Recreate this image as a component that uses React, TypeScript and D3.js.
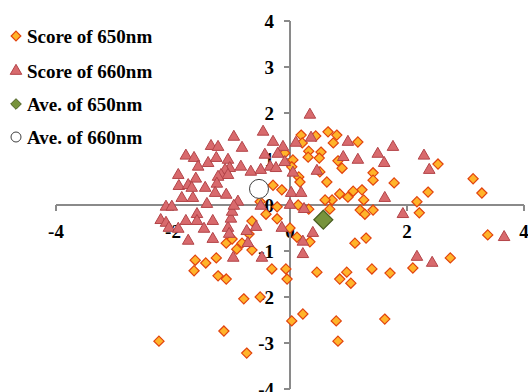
// App.tsx
import React, { useRef, useEffect } from 'react';
import { select, scaleLinear, symbol, symbolDiamond2, symbolTriangle } from 'd3';

// scores of 650nm [x, y]
const score650: [number, number][] = [
    [0.19, 1.52], [0.21, 1.35], [0.44, 1.5], [0.65, 1.59], [0.8, 1.52], [0.74, 1.35],
    [1.16, 1.37], [0.32, 1.17], [0.31, 1.04], [0.53, 1.15], [0.5, 1.02], [0.82, 0.96],
    [0.89, 0.8], [0.05, 0.98], [0.03, 0.83], [0.15, 0.61], [0.17, 0.5], [0.51, 0.72],
    [0.63, 0.5], [1.42, 0.7], [1.42, 0.54], [1.78, 0.48], [2.53, 0.89], [3.13, 0.57],
    [3.28, 0.26], [2.36, 0.28], [2.17, 0.07], [2.21, -0.17], [1.23, 0.33], [1.08, 0.3],
    [0.85, 0.24], [0.99, 0.17], [1.26, 0.11], [0.72, 0.11], [0.6, 0.11], [-0.09, 1.13],
    [0.14, 0], [0.32, -0.09], [0.68, -0.09], [1.2, -0.11], [1.28, -0.2], [1.42, -0.11],
    [0, -0.5], [0.12, -0.7], [0.34, -0.8], [1.11, -0.83], [1.3, -0.72], [0.46, -1.46],
    [0.97, -1.46], [0.85, -1.61], [1.04, -1.7], [1.4, -1.39], [1.71, -1.48], [2.1, -1.37],
    [2.74, -1.15], [3.38, -0.65], [0.03, -2.52], [0.22, -2.37], [0.79, -2.52], [0.82, -2.96],
    [1.62, -2.48], [-0.29, 0.43], [-0.14, 0.33], [-0.51, 0.07], [-0.22, -0.04], [-0.41, -0.2],
    [-0.22, -0.3], [-0.65, -0.35], [-0.7, -0.63], [-1.09, -0.83], [-0.99, -0.74], [-0.91, -0.96],
    [-0.82, -0.83], [-0.65, -0.98], [-1.62, -1.2], [-1.44, -1.26], [-1.26, -1.15], [-1.64, -1.43],
    [-1.23, -1.54], [-1.09, -1.61], [-0.31, -1.39], [-0.07, -1.39], [-0.05, -1.61], [-0.79, -2.04],
    [-0.51, -2.0], [-2.24, -2.96], [-1.13, -2.74], [-0.74, -3.22]
];

// scores of 660nm [x, y]
const score660: [number, number][] = [
    [0.34, 1.96], [-0.46, 1.59], [-0.29, 1.37], [-0.12, 1.26], [0.1, 1.35], [0.36, 1.46],
    [0.99, 1.37], [1.76, 1.26], [1.5, 1.11], [2.29, 1.07], [1.61, 0.91], [2.38, 0.76],
    [0.91, 1.04], [1.16, 0.98], [0.46, 0.74], [-0.43, 1.09], [-0.21, 1.11], [-0.09, 0.93],
    [0.05, 0.7], [-0.5, 0.76], [-0.34, 0.83], [-0.24, 0.8], [0.02, 0.26], [0.19, 0.26],
    [1.62, 0.15], [-0.96, 1.48], [-1.35, 1.28], [-1.23, 1.26], [-0.82, 1.24], [-1.78, 1.07],
    [-1.64, 1.02], [-1.57, 0.83], [-1.4, 0.91], [-1.26, 1.02], [-1.06, 0.98], [-1.03, 0.8],
    [-1.11, 0.76], [-1.18, 0.65], [-1.06, 0.65], [-0.84, 0.83], [-0.67, 0.72], [-1.91, 0.65],
    [-1.9, 0.41], [-1.74, 0.43], [-1.61, 0.57], [-1.68, 0.37], [-1.45, 0.37], [-1.23, 0.61],
    [-1.25, 0.46], [-1.28, 0.26], [-1.09, 0.22], [-1.66, 0.15], [-1.85, 0.15], [-1.42, 0.02],
    [-0.89, 0.07], [0, 0], [-2.12, -0.04], [-2.02, -0.04], [-2.21, -0.33], [-2.12, -0.39],
    [-2.07, -0.5], [-1.91, -0.52], [-1.78, -0.35], [-1.59, -0.2], [-1.59, -0.35], [-1.47, -0.52],
    [-1.32, -0.35], [-1.32, -0.74], [-1.74, -0.78], [-1.06, -0.5], [-1.04, -0.63], [-1.01, -0.3],
    [-0.99, -0.15], [-0.96, -0.02], [-0.74, -0.57], [-0.58, -0.48], [-0.14, -0.5], [-0.72, -0.83],
    [-0.97, -1.15], [-0.48, -1.15], [-0.5, -0.02], [0.24, -0.09], [1.93, -0.2], [0.39, -0.61],
    [0.22, -0.8], [0.22, -1.07], [2.17, -1.13], [2.43, -1.26], [3.66, -0.7]
];

const ave650: [number, number] = [0.57, -0.32];
const ave660: [number, number] = [-0.53, 0.35];

const xTicks = [-4, -2, 0, 2, 4];
const yTicks = [-4, -3, -2, -1, 0, 1, 2, 3, 4];

const legendLabels = ['Score of 650nm', 'Score of 660nm', 'Ave. of 650nm', 'Ave. of 660nm'];

const W = 528;
const H = 392;
const FONT = "'Liberation Serif', 'Times New Roman', Times, serif";

const App = () => {
    const ref = useRef<SVGSVGElement>(null);

    useEffect(() => {
        const svg = select(ref.current);
        svg.selectAll('*').remove();

        const x = scaleLinear().domain([-4, 4]).range([56, 524]);
        const y = scaleLinear().domain([-4, 4]).range([389, 21]);

        const axisColor = '#8a8a8a';

        // x axis through y = 0
        svg.append('line')
            .attr('x1', x(-4)).attr('x2', x(4))
            .attr('y1', y(0)).attr('y2', y(0))
            .attr('stroke', axisColor).attr('stroke-width', 2);
        svg.selectAll('.xtick').data(xTicks).enter()
            .append('line')
            .attr('x1', d => x(d)).attr('x2', d => x(d))
            .attr('y1', y(0)).attr('y2', y(0) + 6)
            .attr('stroke', axisColor).attr('stroke-width', 2);
        svg.selectAll('.xlabel').data(xTicks).enter()
            .append('text')
            .attr('x', d => x(d))
            .attr('y', y(0) + 33)
            .attr('text-anchor', 'middle')
            .style('font-family', FONT)
            .style('font-weight', 'bold')
            .style('font-size', '19px')
            .text(d => String(d));

        // y axis through x = 0
        svg.append('line')
            .attr('x1', x(0)).attr('x2', x(0))
            .attr('y1', y(4)).attr('y2', y(-4))
            .attr('stroke', axisColor).attr('stroke-width', 2);
        svg.selectAll('.ytick').data(yTicks).enter()
            .append('line')
            .attr('x1', x(0) - 6).attr('x2', x(0))
            .attr('y1', d => y(d)).attr('y2', d => y(d))
            .attr('stroke', axisColor).attr('stroke-width', 2);
        svg.selectAll('.ylabel').data(yTicks).enter()
            .append('text')
            .attr('x', x(0) - 16)
            .attr('y', d => y(d))
            .attr('dy', '0.35em')
            .attr('text-anchor', 'end')
            .style('font-family', FONT)
            .style('font-weight', 'bold')
            .style('font-size', '19px')
            .text(d => String(d));

        const diamond = symbol().type(symbolDiamond2).size(66);
        const triangle = symbol().type(symbolTriangle).size(58);
        const bigDiamond = symbol().type(symbolDiamond2).size(230);

        // score of 650nm
        svg.selectAll('.s650').data(score650).enter()
            .append('path')
            .attr('d', diamond())
            .attr('transform', d => `translate(${x(d[0])},${y(d[1])})`)
            .attr('fill', '#FFB42A')
            .attr('stroke', '#E2430E')
            .attr('stroke-width', 1.2);

        // score of 660nm
        svg.selectAll('.s660').data(score660).enter()
            .append('path')
            .attr('d', triangle())
            .attr('transform', d => `translate(${x(d[0])},${y(d[1])})`)
            .attr('fill', '#D86A6D')
            .attr('stroke', '#B34448')
            .attr('stroke-width', 1);

        // averages
        svg.append('path')
            .attr('d', bigDiamond())
            .attr('transform', `translate(${x(ave650[0])},${y(ave650[1])})`)
            .attr('fill', '#77933C')
            .attr('stroke', '#4A5E22')
            .attr('stroke-width', 1.2);
        svg.append('circle')
            .attr('cx', x(ave660[0])).attr('cy', y(ave660[1]))
            .attr('r', 9.5)
            .attr('fill', '#ffffff')
            .attr('stroke', '#404040')
            .attr('stroke-width', 1);

        // legend
        const legendY = [36, 71, 104, 137];
        const lg = svg.append('g');
        lg.append('path').attr('d', symbol().type(symbolDiamond2).size(60)())
            .attr('transform', `translate(16,${legendY[0]})`)
            .attr('fill', '#FFB42A').attr('stroke', '#E2430E').attr('stroke-width', 1.2);
        lg.append('path').attr('d', symbol().type(symbolTriangle).size(58)())
            .attr('transform', `translate(16,${legendY[1]})`)
            .attr('fill', '#D86A6D').attr('stroke', '#B34448');
        lg.append('path').attr('d', symbol().type(symbolDiamond2).size(72)())
            .attr('transform', `translate(16,${legendY[2]})`)
            .attr('fill', '#77933C').attr('stroke', '#4A5E22');
        lg.append('circle')
            .attr('cx', 16).attr('cy', legendY[3]).attr('r', 5)
            .attr('fill', '#ffffff').attr('stroke', '#404040');
        lg.selectAll('text').data(legendLabels).enter()
            .append('text')
            .attr('x', 27)
            .attr('y', (d, i) => legendY[i])
            .attr('dy', '0.35em')
            .style('font-family', FONT)
            .style('font-weight', 'bold')
            .style('font-size', '19px')
            .text(d => d);
    }, []);

    return (
        <svg
            ref={ref}
            width={W}
            height={H}
            style={{ position: 'absolute', left: 0, top: 0, background: '#ffffff' }}
        ></svg>
    );
};

export default App;
